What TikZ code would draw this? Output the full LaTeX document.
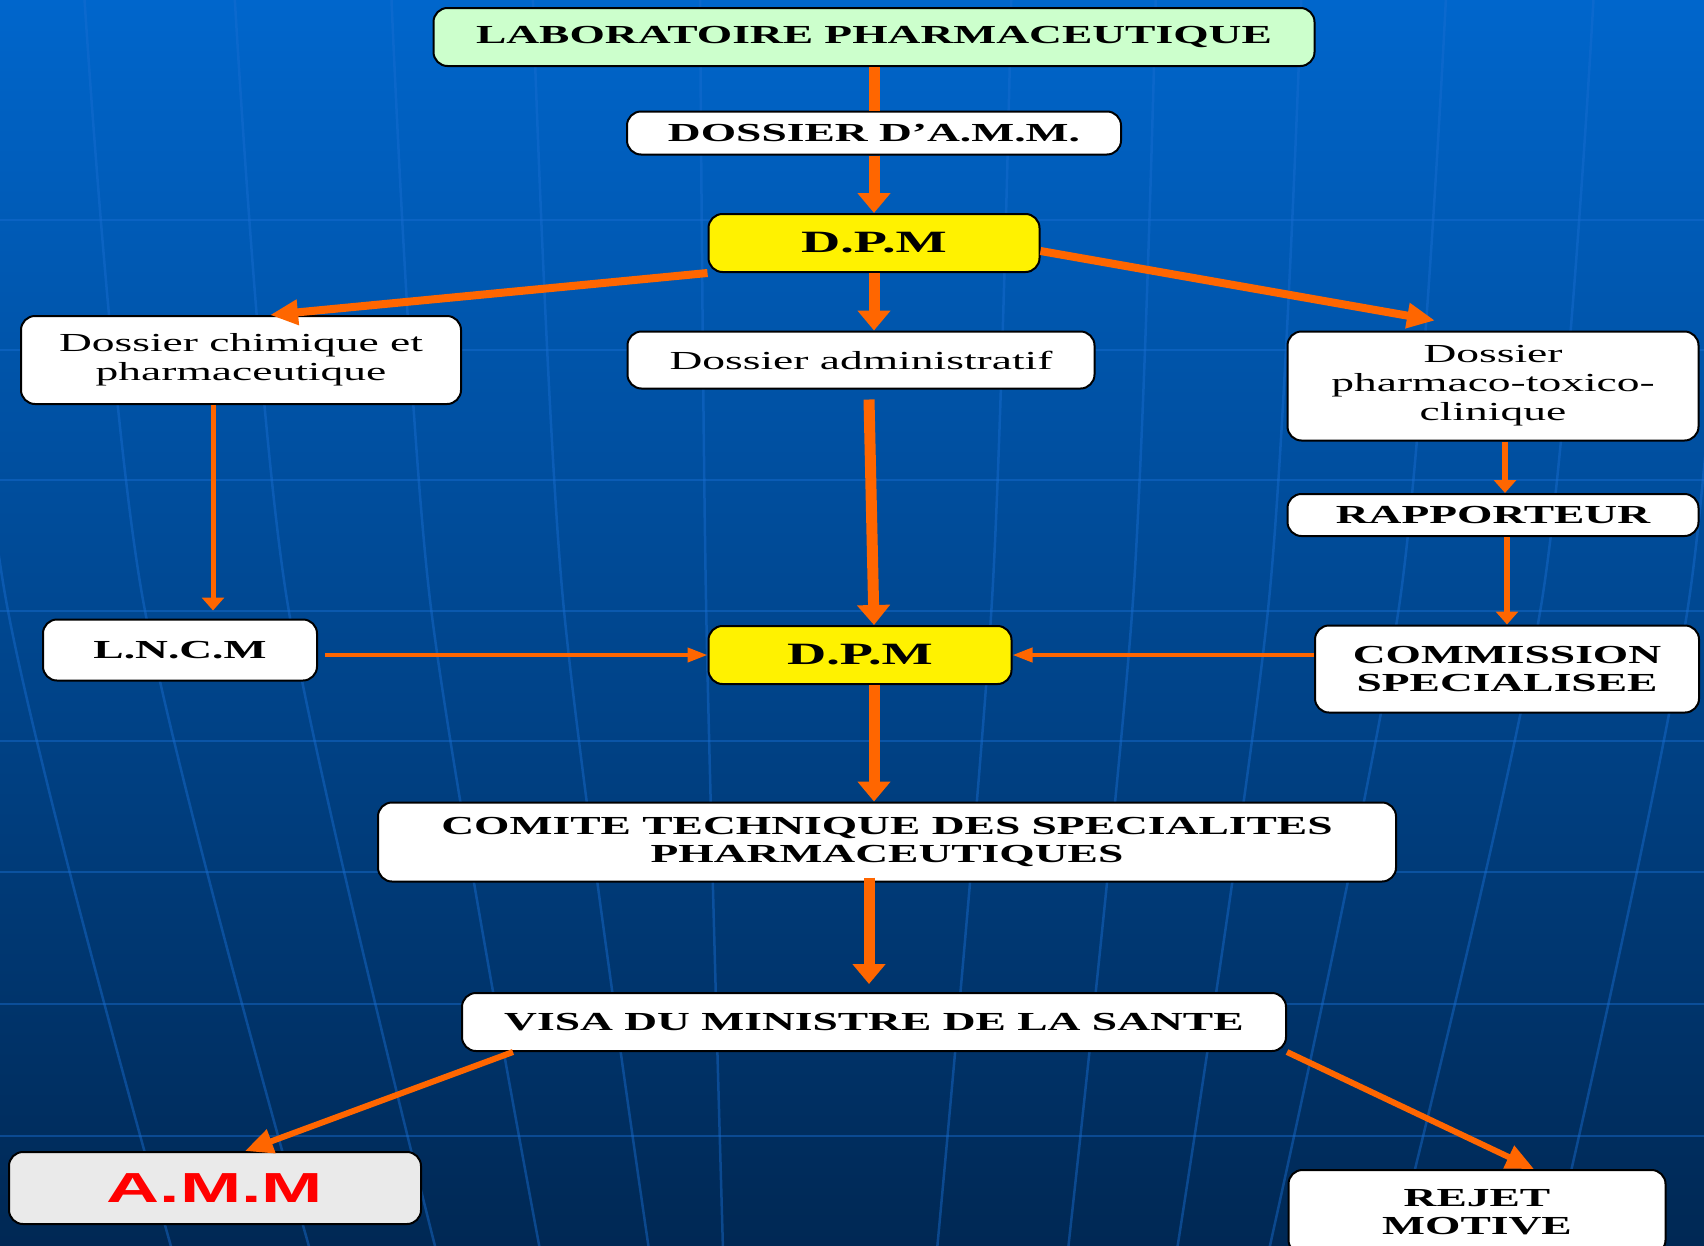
\documentclass[tikz,border=0pt]{standalone}
\usepackage{fontspec}
\setmainfont{Liberation Serif}
\newfontfamily\wideserif[FakeStretch=1.75]{Liberation Serif}
\newfontfamily\widesans[FakeStretch=1.75]{Liberation Sans}
\usetikzlibrary{arrows.meta,positioning}
\definecolor{slidetop}{RGB}{0,102,204}
\definecolor{slidebottom}{RGB}{0,40,84}
\definecolor{gridblue}{RGB}{25,110,210}
\definecolor{arroworange}{RGB}{255,102,0}
\definecolor{labgreen}{RGB}{204,255,204}
\definecolor{ammgrey}{RGB}{234,234,234}

\begin{document}
\begin{tikzpicture}
		[x=1pt, y=-1pt,
		box/.style ={rectangle, draw=black, line width=2pt, fill=white, rounded corners=14pt, align=center, inner sep=0pt, font=\wideserif\fontsize{26}{29}\selectfont},
		bbox/.style ={box, font=\wideserif\bfseries\fontsize{26}{28}\selectfont},
		dpm/.style ={bbox, fill=yellow, font=\wideserif\bfseries\fontsize{31}{34}\selectfont},
		gridline/.style ={draw=gridblue, line width=2.5pt, opacity=0.45},
		bigarrow/.style ={draw=arroworange, line width=11pt, -{Triangle[length=20pt,width=32pt]}},
		slantarrow/.style ={draw=arroworange, line width=8pt, -{Triangle[length=28pt,width=24pt]}},
		midarrow/.style ={draw=arroworange, line width=6pt, -{Triangle[length=13pt,width=22pt]}},
		thinarrow/.style ={draw=arroworange, line width=4pt, -{Triangle[length=20pt,width=14pt]}},
		]
		
		% slide background
		\shade[top color=slidetop, bottom color=slidebottom] (0,0) rectangle (1704,1245);
		\useasboundingbox (0,0) rectangle (1704,1245);
		\begin{scope}
		\clip (0,0) rectangle (1704,1245);
		\foreach \yy in {220,350,480,611,741,872,1004,1136}
			\draw[gridline] (0,\yy) -- (1704,\yy);
		\foreach \a/\b in {6/172,143/310,287/436,430/540,563/649,706/723,992/937,1133/1068,1269/1177,1400/1269,1542/1395,1689/1553}{
			\pgfmathsetmacro\xt{\a-0.35*(\b-\a)}
			\draw[gridline] plot[smooth] coordinates {(\xt,0) (\a,600) (\b,1250)};
		}
		\end{scope}
		
		\draw (874,37) node[bbox, fill=labgreen, minimum width=881pt, minimum height=58pt] (lab) {LABORATOIRE PHARMACEUTIQUE};
		\draw (874,133) node[bbox, minimum width=494pt, minimum height=43pt] (dossamm) {DOSSIER D’A.M.M.};
		\draw (874,243) node[dpm, minimum width=331pt, minimum height=58pt] (dpma) {D.P.M};
		\draw (241,360) node[box, minimum width=440pt, minimum height=88pt] (chim) {Dossier chimique et\\pharmaceutique};
		\draw (861,360) node[box, minimum width=467pt, minimum height=57pt] (admin) {Dossier administratif};
		\draw (1493,386) node[box, minimum width=411pt, minimum height=109pt] (pharma) {Dossier\\pharmaco-toxico-\\clinique};
		\draw (1493,515) node[bbox, minimum width=411pt, minimum height=42pt] (rapp) {RAPPORTEUR};
		\draw (180,650) node[bbox, minimum width=274pt, minimum height=61pt] (lncm) {L.N.C.M};
		\draw (860,655) node[dpm, minimum width=303pt, minimum height=58pt] (dpmb) {D.P.M};
		\draw (1507,669) node[bbox, minimum width=384pt, minimum height=87pt] (comm) {COMMISSION\\SPECIALISEE};
		\draw (887,842) node[bbox, minimum width=1018pt, minimum height=79pt] (comite) {COMITE TECHNIQUE DES SPECIALITES\\PHARMACEUTIQUES};
		\draw (874,1022) node[bbox, minimum width=824pt, minimum height=58pt] (visa) {VISA DU MINISTRE DE LA SANTE};
		\draw (215,1188) node[box, fill=ammgrey, minimum width=412pt, minimum height=72pt, text=red, font=\widesans\bfseries\fontsize{42}{46}\selectfont] (amm) {A.M.M};
		\draw (1477,1212) node[bbox, minimum width=377pt, minimum height=84pt] (rejet) {REJET\\MOTIVE};

		% top column
		\draw[draw=arroworange, line width=11pt] (lab.south) -- (dossamm.north);
		\draw[bigarrow] (dossamm.south) -- (dpma.north);
		\draw[bigarrow] (dpma.south) -- (dpma.south |- admin.north);
		\draw[slantarrow] (dpma.south west) -- ([xshift=29pt]chim.north);
		\draw[slantarrow] ([yshift=-8pt]dpma.east) -- ([xshift=-58pt,yshift=10pt]pharma.north);

		% dossiers to second D.P.M
		\draw[midarrow, line width=5pt] ([xshift=-28pt]chim.south) -- ([xshift=33pt,yshift=8pt]lncm.north);
		\draw[bigarrow] ([xshift=8pt,yshift=-10pt]admin.south) -- ([xshift=14pt]dpmb.north);
		\draw[midarrow] ([xshift=12pt]pharma.south) -- ([xshift=12pt]pharma.south |- rapp.north);
		\draw[midarrow] (rapp.south -| comm.north) -- (comm.north);
		\draw[thinarrow] ([xshift=7pt]lncm.east |- dpmb.west) -- (dpmb.west);
		\draw[thinarrow] (comm.west |- dpmb.east) -- (dpmb.east);

		% decision
		\draw[bigarrow] ([xshift=14pt]dpmb.south) -- ([xshift=14pt]dpmb.south |- comite.north);
		\draw[bigarrow, shorten >=8pt] ([xshift=-18pt,yshift=5pt]comite.south) -- ([xshift=-18pt]comite.south |- visa.north);
		\draw[slantarrow, line width=6pt] ([xshift=52pt]visa.south west) -- ([xshift=30pt]amm.north);
		\draw[slantarrow, line width=6pt] (visa.south east) -- ([xshift=57pt]rejet.north);

	\end{tikzpicture}
\end{document}
